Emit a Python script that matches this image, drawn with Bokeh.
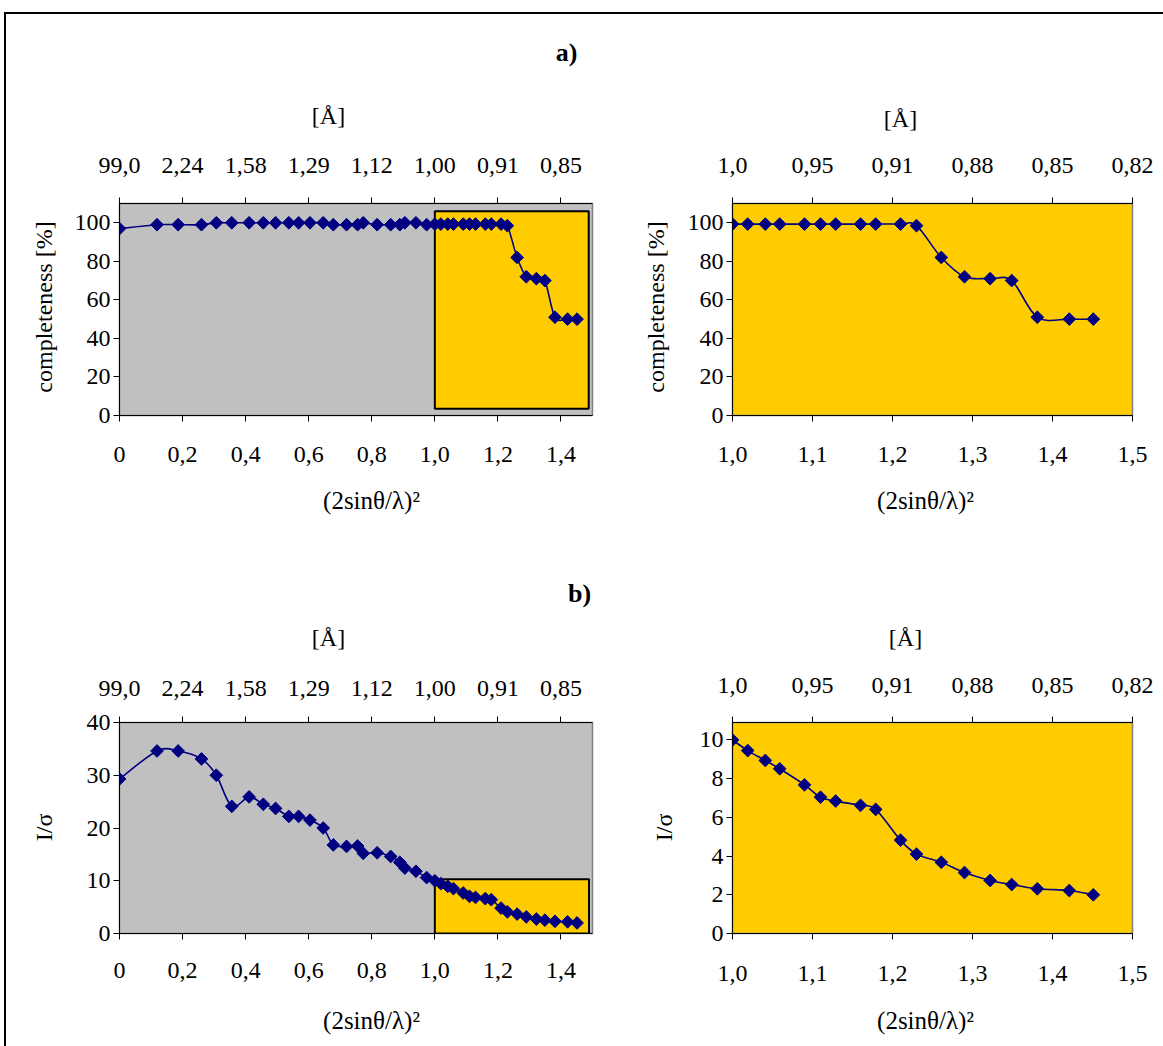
from bokeh.plotting import figure
from bokeh.models import LinearAxis, FixedTicker, Range1d, BoxAnnotation, Div, Spacer
from bokeh.layouts import row, column
from bokeh.embed import file_html
from bokeh.resources import INLINE
from bokeh.core.properties import value
import math

# ---------------- data ----------------
s2 = [0.0, 0.119, 0.186, 0.26, 0.307, 0.356, 0.411, 0.456, 0.495, 0.537, 0.568, 0.604,
      0.646, 0.678, 0.72, 0.755, 0.773, 0.817, 0.86, 0.889, 0.905, 0.94, 0.974,
      1.0, 1.019, 1.041, 1.059, 1.09, 1.11, 1.129, 1.16, 1.179, 1.21, 1.23, 1.261,
      1.29, 1.322, 1.349, 1.381, 1.421, 1.451]
completeness = [97.0, 99.0, 99.0, 99.0, 100.0, 100.0, 100.0, 100.0, 100.0, 100.0, 100.0, 100.0,
                100.0, 99.0, 99.0, 99.0, 100.0, 99.0, 99.0, 99.0, 100.0, 100.0, 99.0,
                99.3, 99.3, 99.3, 99.3, 99.3, 99.3, 99.3, 99.3, 99.3, 99.3, 98.5, 82.0,
                72.0, 71.0, 70.0, 51.0, 50.0, 50.0]
i_sigma = [29.3, 34.6, 34.6, 33.1, 30.0, 24.1, 25.9, 24.5, 23.7, 22.2, 22.2, 21.5,
           20.0, 16.8, 16.5, 16.6, 15.2, 15.3, 14.6, 13.5, 12.4, 11.8, 10.6,
           10.0, 9.45, 8.94, 8.51, 7.68, 7.04, 6.84, 6.62, 6.41, 4.82, 4.10, 3.68,
           3.15, 2.74, 2.53, 2.31, 2.22, 2.00]
ZOOM_START = 23  # index of first point with (2sin(theta)/lambda)^2 >= 1.0

# ticks / labels
left_xticks = [0.0, 0.2, 0.4, 0.6, 0.8, 1.0, 1.2, 1.4]
left_xlabels = ["0", "0,2", "0,4", "0,6", "0,8", "1,0", "1,2", "1,4"]
left_toplabels = ["99,0", "2,24", "1,58", "1,29", "1,12", "1,00", "0,91", "0,85"]
right_xticks = [1.0, 1.1, 1.2, 1.3, 1.4, 1.5]
right_xlabels = ["1,0", "1,1", "1,2", "1,3", "1,4", "1,5"]
right_toplabels = ["1,0", "0,95", "0,91", "0,88", "0,85", "0,82"]
compl_yticks = [0, 20, 40, 60, 80, 100]
isig_left_yticks = [0, 10, 20, 30, 40]
isig_right_yticks = [0, 2, 4, 6, 8, 10]

X_TITLE = "(2sinθ/λ)²"
TOP_TITLE = "[Å]"
Y_TITLE_A = "completeness [%]"
Y_TITLE_B = "I/σ"

# ---------------- style ----------------
FONT = "Liberation Serif"
NAVY = "#000080"
GRAY = "#C0C0C0"
YELLOW = "#FFCC00"
TICK_PX = "24px"
TITLE_PX = "24px"
XTITLE_PX = "25px"
ORIGIN = (6, 14)   # absolute position of the content block (inside the frame lines)


def smooth_segments(xs, ys):
    n = len(xs)
    out = dict(x0=[], y0=[], x1=[], y1=[], cx0=[], cy0=[], cx1=[], cy1=[])
    for i in range(n - 1):
        a = i - 1 if i > 0 else i
        d = i + 2 if i + 2 < n else i + 1
        out["x0"].append(xs[i]); out["y0"].append(ys[i])
        out["x1"].append(xs[i + 1]); out["y1"].append(ys[i + 1])
        out["cx0"].append(xs[i] + (xs[i + 1] - xs[a]) / 6.0)
        out["cy0"].append(ys[i] + (ys[i + 1] - ys[a]) / 6.0)
        out["cx1"].append(xs[i + 1] - (xs[d] - xs[i]) / 6.0)
        out["cy1"].append(ys[i + 1] - (ys[d] - ys[i]) / 6.0)
    return out


def style_axis(ax, standoff):
    ax.axis_line_color = "black"
    ax.axis_line_width = 1
    ax.major_tick_line_color = "black"
    ax.major_tick_out = 6
    ax.major_tick_in = 0
    ax.minor_tick_line_color = None
    ax.major_label_text_font = FONT
    ax.major_label_text_font_size = TICK_PX
    ax.major_label_text_color = "black"
    ax.major_label_standoff = standoff


def panel(canvas, frame, xr, yr, xs, ys, bg, xticks, xlabels, toplabels, yticks,
          boxes=(), top_standoff=25, bottom_standoff=25):
    cx, cy, cw, ch = canvas          # absolute canvas position / size
    fl, ft, fw, fh = frame           # absolute frame position / size
    p = figure(width=cw, height=ch, output_backend="svg", toolbar_location=None,
               x_range=Range1d(*xr), y_range=Range1d(*yr),
               min_border_left=fl - cx, min_border_top=ft - cy,
               min_border_right=cw - (fl - cx) - fw, min_border_bottom=ch - (ft - cy) - fh)
    p.background_fill_color = bg
    p.border_fill_color = "white"
    p.outline_line_color = "#808080"
    p.outline_line_width = 1.5
    p.grid.visible = False

    p.xaxis.ticker = FixedTicker(ticks=xticks)
    p.xaxis.major_label_overrides = dict(zip(xticks, xlabels))
    p.yaxis.ticker = FixedTicker(ticks=yticks)
    for ax in p.xaxis:
        style_axis(ax, bottom_standoff)
    for ax in p.yaxis:
        style_axis(ax, 3)

    top = LinearAxis(ticker=FixedTicker(ticks=xticks),
                     major_label_overrides=dict(zip(xticks, toplabels)))
    style_axis(top, top_standoff)
    p.add_layout(top, "above")

    for (l, r, b, t) in boxes:
        p.add_layout(BoxAnnotation(left=l, right=r, bottom=b, top=t, fill_color=YELLOW,
                                   fill_alpha=1.0, line_color="black", line_alpha=1.0,
                                   line_width=2, level="underlay"))

    seg = smooth_segments(xs, ys)
    p.bezier(line_color=NAVY, line_width=1.6, **seg)
    p.scatter(xs, ys, marker="square", size=9, angle=math.pi / 4,
              fill_color=NAVY, line_color=NAVY)
    return p


def text_strip(box, items):
    """A blank figure whose frame is the whole strip; coordinates are absolute page pixels."""
    bx, by, bw, bh = box
    p = figure(width=bw, height=bh, output_backend="svg", toolbar_location=None,
               x_range=Range1d(bx, bx + bw), y_range=Range1d(by + bh, by),
               x_axis_type=None, y_axis_type=None, min_border=0)
    p.outline_line_color = None
    p.grid.visible = False
    p.background_fill_color = "white"
    p.border_fill_color = "white"
    for (x, y, txt, size, bold, ang) in items:
        p.text(x=[x], y=[y], text=[txt], text_font=value(FONT), text_font_size=value(size),
               text_font_style="bold" if bold else "normal", text_align="center",
               text_baseline="middle", angle=ang, text_color="black")
    return p


ox, oy = ORIGIN
HALF = math.pi / 2

# row 1 (a)
strip_top1 = text_strip((ox, oy, 1157, 126),
                        [(566, 52, "a)", "26px", True, 0),
                         (328, 115, TOP_TITLE, TITLE_PX, False, 0),
                         (900, 118, TOP_TITLE, TITLE_PX, False, 0)])
ys_tl = text_strip((6, 140, 60, 338), [(43, 305, Y_TITLE_A, TITLE_PX, False, HALF)])
tl = panel((66, 140, 554, 338), (119, 203, 473, 214), (0, 1.5), (0, 110),
           s2, completeness, GRAY, left_xticks, left_xlabels, left_toplabels, compl_yticks,
           boxes=[(1.0, 1.488, 3.5, 106.0)])
ys_tr = text_strip((620, 140, 62, 338), [(655, 305, Y_TITLE_A, TITLE_PX, False, HALF)])
tr = panel((682, 140, 481, 338), (732, 202, 400, 213), (1.0, 1.5), (0, 110),
           s2[ZOOM_START:], completeness[ZOOM_START:], YELLOW, right_xticks, right_xlabels,
           right_toplabels, compl_yticks)
strip_bot1 = text_strip((ox, 478, 1157, 52),
                        [(371, 500, X_TITLE, XTITLE_PX, False, 0),
                         (925, 500, X_TITLE, XTITLE_PX, False, 0)])

# row 2 (b)
strip_top2 = text_strip((ox, 530, 1157, 130),
                        [(579, 593, "b)", "26px", True, 0),
                         (328, 637, TOP_TITLE, TITLE_PX, False, 0),
                         (905, 637, TOP_TITLE, TITLE_PX, False, 0)])
ys_bl = text_strip((6, 660, 60, 338), [(43, 828, Y_TITLE_B, TITLE_PX, False, HALF)])
bl = panel((66, 660, 554, 338), (119, 722, 473, 214), (0, 1.5), (0, 40),
           s2, i_sigma, GRAY, left_xticks, left_xlabels, left_toplabels, isig_left_yticks,
           boxes=[(1.0, 1.489, 0.0, 10.3)], top_standoff=21, bottom_standoff=23)
ys_br = text_strip((620, 660, 62, 338), [(663, 828, Y_TITLE_B, TITLE_PX, False, HALF)])
br = panel((682, 660, 481, 338), (732, 720, 400, 213), (1.0, 1.5), (0, 10.9),
           s2[ZOOM_START:], i_sigma[ZOOM_START:], YELLOW, right_xticks, right_xlabels,
           right_toplabels, isig_right_yticks, top_standoff=24, bottom_standoff=26)
strip_bot2 = text_strip((ox, 998, 1157, 48),
                        [(371, 1020, X_TITLE, XTITLE_PX, False, 0),
                         (925, 1020, X_TITLE, XTITLE_PX, False, 0)])

content = column(
    strip_top1,
    row(ys_tl, tl, ys_tr, tr, spacing=0),
    strip_bot1,
    strip_top2,
    row(ys_bl, bl, ys_br, br, spacing=0),
    strip_bot2,
    spacing=0,
)

top_line = Div(text="", width=1159, height=2, margin=(0, 0, 0, 0),
               styles={"background-color": "black"})
left_line = Div(text="", width=2, height=1032, margin=(0, 0, 0, 0),
                styles={"background-color": "black"})

root = column(
    Spacer(width=1163, height=12),
    row(Spacer(width=4, height=1034),
        column(top_line, row(left_line, content, spacing=0), spacing=0),
        spacing=0),
    spacing=0,
)

with open("out.html", "w") as f:
    f.write(file_html(root, INLINE))
